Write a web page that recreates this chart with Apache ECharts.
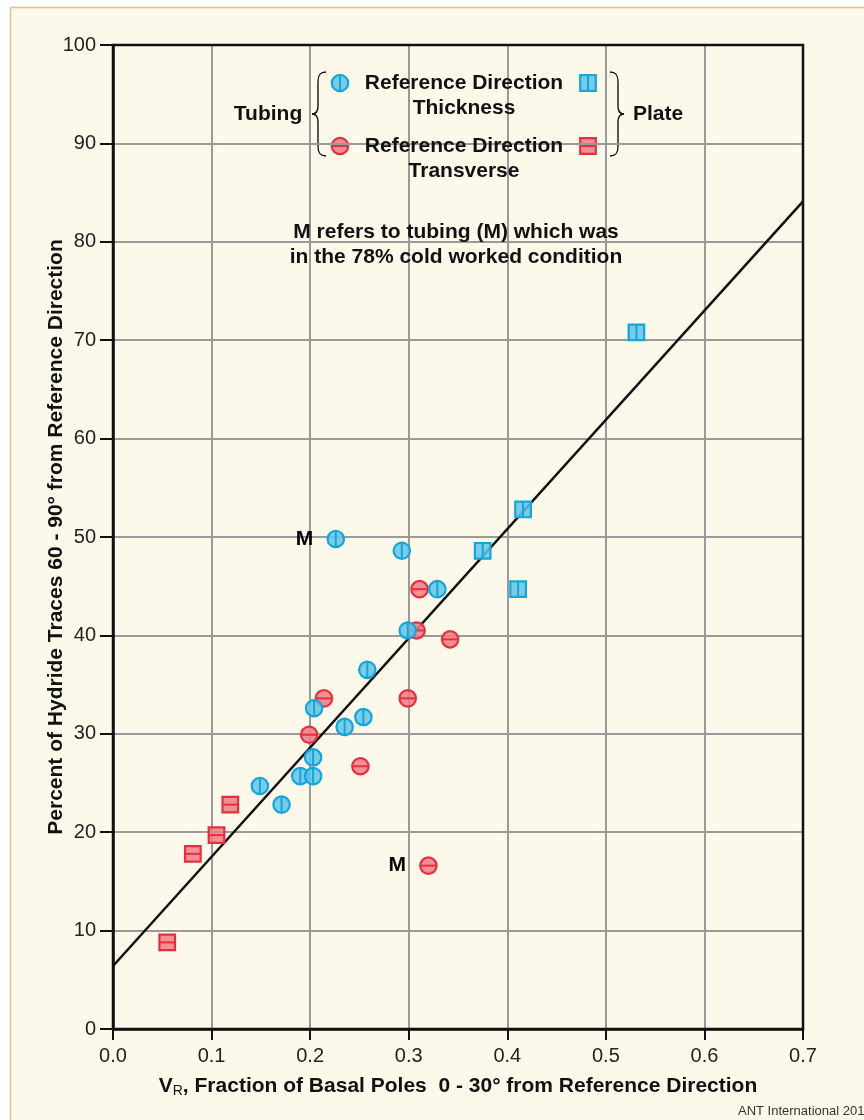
<!DOCTYPE html>
<html><head><meta charset="utf-8">
<script src="https://cdn.jsdelivr.net/npm/echarts@6/dist/echarts.min.js"></script>
<style>html,body{margin:0;padding:0;background:#ffffff;}#c{width:864px;height:1120px;}</style>
</head><body><div id="c"></div>
<script>
// Tubing, reference direction = thickness (blue circles) [VR, percent]
const tubingThickness = [
  [0.226,49.8],[0.293,48.6],[0.329,44.7],[0.299,40.5],[0.258,36.5],[0.204,32.6],
  [0.254,31.7],[0.235,30.7],[0.203,27.6],[0.190,25.7],[0.203,25.7],[0.149,24.7],[0.171,22.8]
];
// Tubing, reference direction = transverse (red circles)
const tubingTransverse = [
  [0.311,44.7],[0.308,40.5],[0.342,39.6],[0.214,33.6],[0.299,33.6],[0.199,29.9],[0.251,26.7],[0.320,16.6]
];
// Plate, thickness (blue squares)
const plateThickness = [[0.531,70.8],[0.416,52.8],[0.375,48.6],[0.411,44.7]];
// Plate, transverse (red squares)
const plateTransverse = [[0.119,22.8],[0.105,19.7],[0.081,17.8],[0.055,8.8]];
// Points marked "M" (78% cold worked tubing)
const mPoints = [[0.226,49.8],[0.320,16.6]];
// Fitted line end points
const fitLine = [[0.0,6.4],[0.7,84.1]];
const xTicks = [0,0.1,0.2,0.3,0.4,0.5,0.6,0.7];
const yTicks = [0,10,20,30,40,50,60,70,80,90,100];

const BLUE = {fill:'rgba(96,196,232,0.85)', stroke:'#14a5da'};
const RED  = {fill:'rgba(238,124,134,0.85)', stroke:'#e3303e'};
const FONT = '"Liberation Sans Narrow","Liberation Sans",Arial,sans-serif';
const TFONT = '"Liberation Sans",Arial,sans-serif';

function markerShapes(cx, cy, shape, dir, col){
  const r = 8.2, h = 7.8;
  const ch = [];
  if (shape === 'circle'){
    ch.push({type:'circle', shape:{cx:cx, cy:cy, r:r}, style:{fill:col.fill, stroke:col.stroke, lineWidth:2.2}});
  } else {
    ch.push({type:'rect', shape:{x:cx-h, y:cy-h, width:2*h, height:2*h}, style:{fill:col.fill, stroke:col.stroke, lineWidth:2.2}});
  }
  const L = shape === 'circle' ? r : h;
  if (dir === 'v') ch.push({type:'line', shape:{x1:cx, y1:cy-L, x2:cx, y2:cy+L}, style:{stroke:col.stroke, lineWidth:2}});
  else ch.push({type:'line', shape:{x1:cx-L, y1:cy, x2:cx+L, y2:cy}, style:{stroke:col.stroke, lineWidth:2}});
  return ch;
}
function markerSeries(name, data, shape, dir, col){
  return {
    type:'custom', name:name, data:data, z:5,
    renderItem:function(params, api){
      const p = api.coord([api.value(0), api.value(1)]);
      return {type:'group', children: markerShapes(p[0], p[1], shape, dir, col)};
    }
  };
}
// curly brace: x = stem x, s = +1 for left brace (tip points left), -1 for right brace
function brace(x, s){
  const st = {stroke:'#111', lineWidth:1.4, fill:null};
  const e = 8*s, t = -6*s;
  return {type:'group', z:20, children:[
    {type:'bezierCurve', shape:{x1:x+e, y1:72, cpx1:x+e*0.25, cpy1:72, cpx2:x, cpy2:75, x2:x, y2:82}, style:st},
    {type:'line', shape:{x1:x, y1:82, x2:x, y2:106}, style:st},
    {type:'bezierCurve', shape:{x1:x, y1:106, cpx1:x, cpy1:111, cpx2:x+t*0.4, cpy2:114, x2:x+t, y2:114}, style:st},
    {type:'bezierCurve', shape:{x1:x+t, y1:114, cpx1:x+t*0.4, cpy1:114, cpx2:x, cpy2:117, x2:x, y2:122}, style:st},
    {type:'line', shape:{x1:x, y1:122, x2:x, y2:146}, style:st},
    {type:'bezierCurve', shape:{x1:x, y1:146, cpx1:x, cpy1:153, cpx2:x+e*0.25, cpy2:156, x2:x+e, y2:156}, style:st}
  ]};
}

const chart = echarts.init(document.getElementById('c'), null, {renderer:'canvas'});
const option = {
  animation:false,
  backgroundColor:'#ffffff',
  grid:{left:113, right:61, top:45, bottom:91, show:true, borderColor:'#111', borderWidth:2.5, backgroundColor:'transparent', z:3},
  xAxis:{
    type:'value', min:0, max:0.7, interval:0.1,
    axisLine:{show:true, onZero:false, lineStyle:{color:'#111', width:2.5}},
    axisTick:{show:true, inside:false, length:11, lineStyle:{color:'#111', width:2}},
    splitLine:{show:true, lineStyle:{color:'#9a9a9a', width:2}},
    axisLabel:{margin:17, fontSize:20, color:'#222', fontFamily:TFONT, formatter:v=>v.toFixed(1)}
  },
  yAxis:{
    type:'value', min:0, max:100, interval:10,
    axisLine:{show:true, onZero:false, lineStyle:{color:'#111', width:2.5}},
    axisTick:{show:true, inside:false, length:13, lineStyle:{color:'#111', width:2}},
    splitLine:{show:true, lineStyle:{color:'#9a9a9a', width:2}},
    axisLabel:{margin:17, fontSize:20, color:'#222', fontFamily:TFONT}
  },
  series:[
    {type:'line', data:fitLine, symbol:'none', z:4, lineStyle:{color:'#111', width:2.5}, silent:true},
    markerSeries('Tubing Transverse', tubingTransverse, 'circle', 'h', RED),
    markerSeries('Plate Transverse', plateTransverse, 'rect', 'h', RED),
    markerSeries('Tubing Thickness', tubingThickness, 'circle', 'v', BLUE),
    markerSeries('Plate Thickness', plateThickness, 'rect', 'v', BLUE),
    {type:'scatter', data:mPoints, symbolSize:1, itemStyle:{color:'rgba(0,0,0,0)'}, z:6, silent:true,
     label:{show:true, formatter:'M', position:'left', distance:22, fontSize:21, fontWeight:'bold', fontFamily:FONT, color:'#000', opacity:1}}
  ],
  graphic:[
    {type:'rect', z:-10, shape:{x:10.5, y:7.5, width:900, height:1200}, style:{fill:'#fdf9ea', stroke:'#e2c38c', lineWidth:1.5}},
    // legend
    {type:'text', z:20, x:268, y:114, style:{text:'Tubing', font:'bold 21px '+FONT, fill:'#111', align:'center', verticalAlign:'middle'}},
    {type:'text', z:20, x:658, y:114, style:{text:'Plate', font:'bold 21px '+FONT, fill:'#111', align:'center', verticalAlign:'middle'}},
    brace(318, 1),
    brace(618, -1),
    {type:'group', z:20, children: markerShapes(340,83,'circle','v',BLUE)},
    {type:'group', z:20, children: markerShapes(340,146,'circle','h',RED)},
    {type:'group', z:20, children: markerShapes(588,83,'rect','v',BLUE)},
    {type:'group', z:20, children: markerShapes(588,146,'rect','h',RED)},
    {type:'text', z:20, x:464, y:83, style:{text:'Reference Direction', font:'bold 21px '+FONT, fill:'#111', align:'center', verticalAlign:'middle'}},
    {type:'text', z:20, x:464, y:108, style:{text:'Thickness', font:'bold 21px '+FONT, fill:'#111', align:'center', verticalAlign:'middle'}},
    {type:'text', z:20, x:464, y:146, style:{text:'Reference Direction', font:'bold 21px '+FONT, fill:'#111', align:'center', verticalAlign:'middle'}},
    {type:'text', z:20, x:464, y:171, style:{text:'Transverse', font:'bold 21px '+FONT, fill:'#111', align:'center', verticalAlign:'middle'}},
    // annotation
    {type:'text', z:20, x:456, y:232, style:{text:'M refers to tubing (M) which was', font:'bold 21px '+FONT, fill:'#111', align:'center', verticalAlign:'middle'}},
    {type:'text', z:20, x:456, y:257, style:{text:'in the 78% cold worked condition', font:'bold 21px '+FONT, fill:'#111', align:'center', verticalAlign:'middle'}},
    // axis titles
    {type:'text', z:20, x:56, y:537, rotation:Math.PI/2, style:{text:'Percent of Hydride Traces 60 - 90° from Reference Direction', font:'bold 21px '+FONT, fill:'#111', align:'center', verticalAlign:'middle'}},
    {type:'text', z:20, x:458, y:1086, style:{
      text:'{v|V}{s|R}{t|, Fraction of Basal Poles  0 - 30° from Reference Direction}',
      align:'center', verticalAlign:'middle',
      rich:{
        v:{font:'bold 21px '+FONT, fill:'#111', verticalAlign:'middle'},
        s:{font:'14px '+TFONT, fill:'#111', padding:[10,0,0,0]},
        t:{font:'bold 21px '+FONT, fill:'#111'}
      }}},
    {type:'text', z:20, x:738, y:1111, style:{text:'ANT International 2018', font:'13px '+TFONT, fill:'#333', align:'left', verticalAlign:'middle'}}
  ]
};
chart.setOption(option);
</script></body></html>
